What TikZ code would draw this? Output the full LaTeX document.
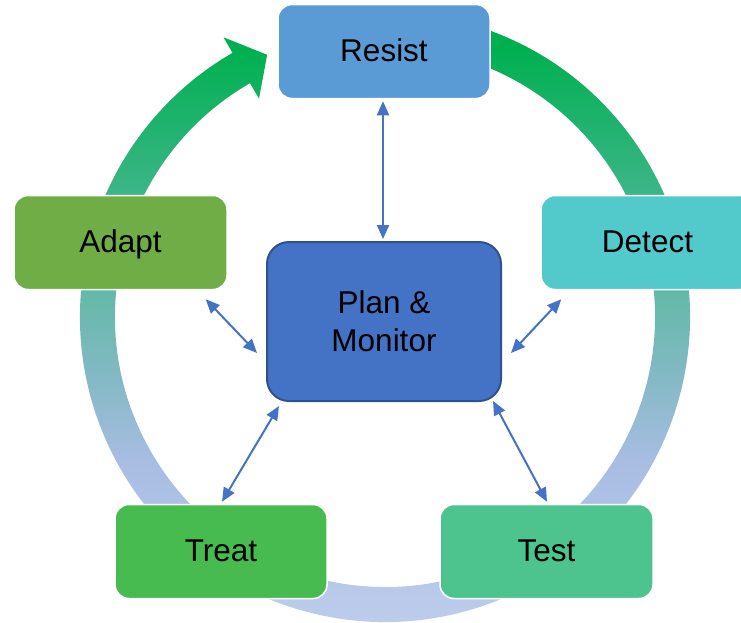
\documentclass[tikz,border=0pt]{standalone}
\usepackage{fontspec}
\setmainfont{Liberation Sans}
\usetikzlibrary{arrows.meta,calc}
\definecolor{resistc}{HTML}{5B9BD5}
\definecolor{detectc}{HTML}{52C9CB}
\definecolor{adaptc}{HTML}{70AD47}
\definecolor{treatc}{HTML}{47BA50}
\definecolor{testc}{HTML}{4DC48D}
\definecolor{pmc}{HTML}{4472C4}
\definecolor{pmborder}{HTML}{2F528F}
\definecolor{arrowc}{HTML}{4472C4}
\definecolor{rgA}{HTML}{BDCCEB}
\definecolor{rgB}{HTML}{A9BDE3}
\definecolor{rgC}{HTML}{84B9C5}
\definecolor{rgD}{HTML}{68B9AC}
\definecolor{rgE}{HTML}{3DB589}
\definecolor{rgF}{HTML}{00B050}
\pgfdeclareverticalshading{ringshade}{100bp}{color(0bp)=(rgA); color(25bp)=(rgA); color(38bp)=(rgB); color(45bp)=(rgC); color(51bp)=(rgD); color(60bp)=(rgE); color(72bp)=(rgF); color(100bp)=(rgF)}
\begin{document}
\begin{tikzpicture}[x=1pt,y=1pt,
  box/.style={draw=white, line width=1.5pt, rounded corners=14pt, inner sep=0pt,
    minimum width=212pt, minimum height=94pt, text height=23pt, text depth=4pt,
    font=\fontsize{31.5pt}{38pt}\selectfont},
  centerbox/.style={draw=pmborder, fill=pmc, line width=2pt, rounded corners=22pt, inner sep=0pt,
    minimum width=234pt, minimum height=159pt, align=center,
    font=\fontsize{31.5pt}{38pt}\selectfont},
  conn/.style={draw=arrowc, line width=2pt, {Triangle[length=14pt,width=12pt]}-{Triangle[length=14pt,width=12pt]}}]
\useasboundingbox (0,0) rectangle (741,-622);
% ring arrow
\begin{scope}
\clip[shift={(385,-317)}] (75:305) arc[start angle=75,end angle=-240,radius=305]
   -- (-240:323) -- (-245.8:287.5) -- (-240:252) -- (-240:270)
   arc[start angle=-240,end angle=75,radius=270] -- cycle;
\shade[shading=ringshade] (0,-12) rectangle (741,-622);
\end{scope}
% boxes
\node[box, fill=resistc] (resist) at (384,-51.5) {Resist};
\node[box, fill=adaptc, minimum width=213pt] (adapt) at (120.5,-242.5) {Adapt};
\node[box, fill=detectc, minimum width=213pt] (detect) at (647.5,-242.5) {Detect};
\node[box, fill=treatc] (treat) at (221,-551.5) {Treat};
\node[box, fill=testc, minimum width=213pt] (test) at (546.5,-551.5) {Test};
\node[centerbox] (pm) at (384,-321.5) {Plan \&\\Monitor};
% connectors
\draw[conn] ($(resist.south)+(-1,-2)$) -- ($(pm.north)+(-1,2)$);
\draw[conn] ($(adapt.south east)+(-22,-9)$) -- ($(pm.west)+(-9,-31.5)$);
\draw[conn] ($(detect.south west)+(21,-9)$) -- ($(pm.east)+(9,-31.5)$);
\draw[conn] ($(treat.north)+(1,2)$) -- ($(pm.south west)+(13,-4)$);
\draw[conn] ($(test.north)+(0.5,2)$) -- ($(pm.south east)+(-9,1)$);
\end{tikzpicture}
\end{document}
